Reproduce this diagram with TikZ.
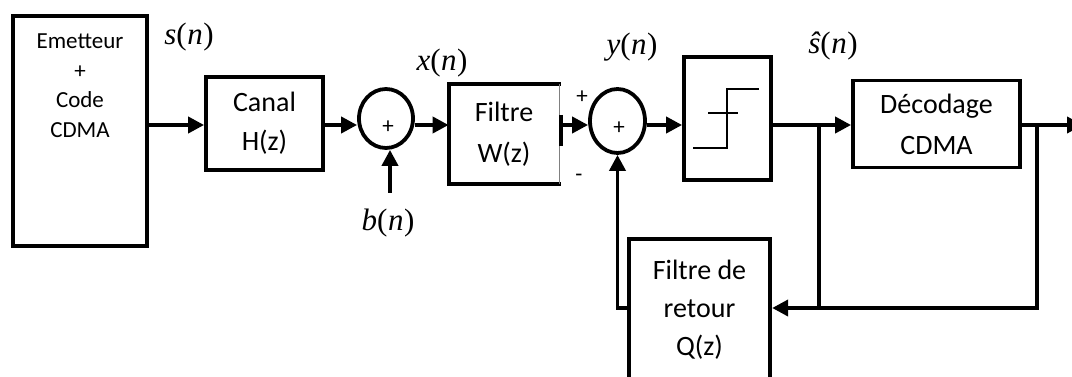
\documentclass[tikz,border=0pt]{standalone}
\usepackage{fontspec}
\setmainfont{Carlito}
\newfontfamily\lblfont{Liberation Serif}
\usetikzlibrary{arrows.meta,shapes.geometric}
\newcommand{\sig}[1]{{\itshape #1}(\kern0.5pt{\itshape n}\kern0.5pt)}
\begin{document}
\begin{tikzpicture}[x=1pt,y=-1pt,
  blk/.style={draw, line width=3.8pt, inner sep=0pt, align=center, font=\fontsize{28}{39}\selectfont},
  sumnode/.style={draw, ellipse, line width=3.8pt, inner sep=0pt},
  wire/.style={line width=3.8pt},
  arr/.style={wire, -{Triangle[length=16pt,width=16pt]}},
  thin/.style={line width=1.6pt},
  lbl/.style={font=\lblfont\fontsize{31}{32}\selectfont, inner sep=0pt},
  sgn/.style={font=\fontsize{23}{23}\selectfont, inner sep=0pt},
]
\useasboundingbox (0,0) rectangle (1072,377);
\clip (0,0) rectangle (1072,377);
\coordinate (ml) at (0,125);
\coordinate (fb) at (0,308);

% blocks
\node[blk, minimum width=134, minimum height=230] (emet) at (80,131) {};
\node[font=\fontsize{23}{29.5}\selectfont, align=center, anchor=north, inner sep=0pt] (emtxt) at (80,34) {Emetteur\\+\\Code\\CDMA};
\node[blk, minimum width=117, minimum height=93] (canal) at (264.5,123.5) {Canal\\H(z)};
\node[blk, draw=none, font=\fontsize{28}{41}\selectfont, minimum width=107, minimum height=96] (filw) at (504,134) {Filtre\\W(z)};
\draw[wire, line cap=rect] (filw.north east) -- (filw.north west) -- (filw.south west) -- (filw.south east);
\draw[gray, line width=1pt] (filw.north east) -- (filw.south east);
\draw[wire] (561,115) -- (561,146);
\coordinate (tk) at (561,125);

\node[sumnode, minimum width=54, minimum height=59] (c1) at (386,118.5) {};
\node[sgn] (c1p) at (388,127) {+};
\node[sumnode, minimum width=55, minimum height=64] (c2) at (617.5,121) {};
\node[sgn] (c2p) at (619,128) {+};
\node[sgn] (plus) at (582,97) {+};
\node[sgn] (minus) at (579,178) {-};

\node[blk, minimum width=87, minimum height=123] (thr) at (727.5,118.5) {};
\draw[thin] (693,148) -- (727,148) -- (727,89) -- (759,89);
\draw[thin] (708,113) -- (738,113);

\node[blk, font=\fontsize{28}{41}\selectfont, minimum width=167, minimum height=87] (dec) at (936.5,124) {D\'ecodage\\CDMA};
\node[blk, font=\fontsize{28}{38}\selectfont, minimum width=141.5, minimum height=141] (ret) at (699.5,309.5) {Filtre de\\retour\\Q(z)};

% labels
\node[lbl] (sn) at (189,37) {\sig{s}};
\node[lbl] (xn) at (442,63) {\sig{x}};
\node[lbl] (yn) at (632,47) {\sig{y}};
\node[lbl] (shn) at (833,46) {\sig{ŝ}};
\node[lbl] (bn) at (388,223) {\sig{b}};
\coordinate (bstart) at (390,193);

% connectors
\coordinate (j1) at (819,125);
\coordinate (j2) at (1037,125);
\coordinate (out) at (1083,125);
\draw[arr] (emet.east |- ml) -- (canal.west |- ml);
\draw[arr] (canal.east |- ml) -- (c1.west |- ml);
\draw[arr] (bstart) -- (bstart |- c1.south);
\draw[arr] (c1.east |- ml) -- (filw.west |- ml);
\draw[arr] (tk) -- (c2.west |- ml);
\draw[arr] (c2.east |- ml) -- (thr.west |- ml);
\draw[wire] (thr.east |- ml) -- (j1);
\draw[arr] (j1) -- (dec.west |- ml);
\draw[wire] (dec.east |- ml) -- (j2);
\draw[arr] (j2) -- (out);
\draw[wire] (j1) -- (j1 |- fb);
\draw[arr] (j2) -- (j2 |- fb) -- (ret.east |- fb);
\draw[arr] (ret.west |- fb) -- (c2.south |- fb) -- (c2.south);
\end{tikzpicture}
\end{document}
